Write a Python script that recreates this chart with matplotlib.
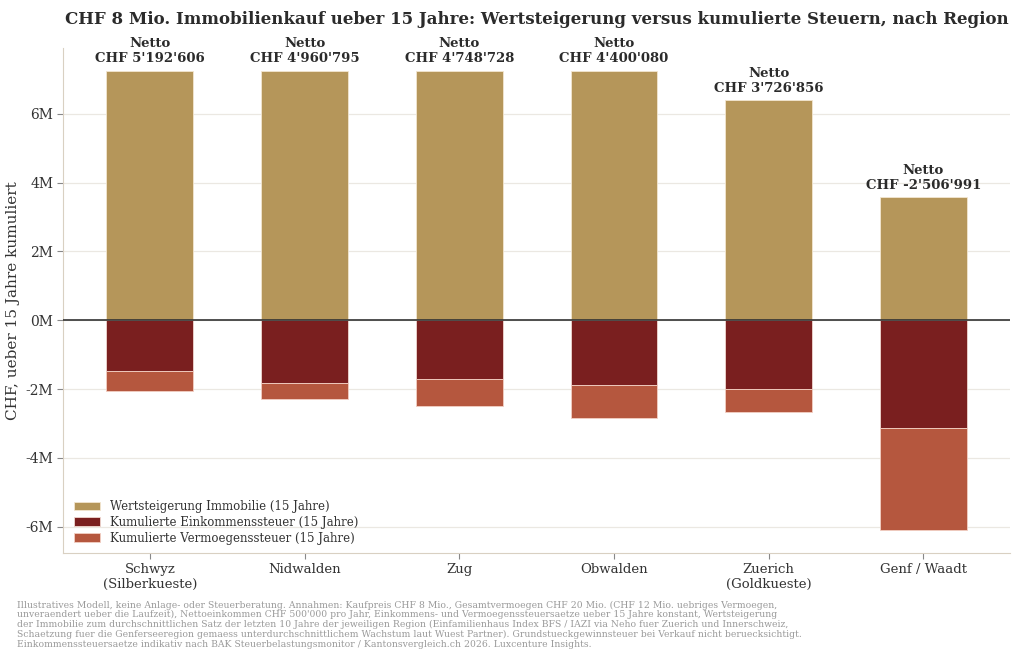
import matplotlib.pyplot as plt
import numpy as np
from matplotlib.ticker import FuncFormatter

plt.rcParams['font.family'] = ['DejaVu Serif']

regions = ['Schwyz\n(Silberkueste)', 'Nidwalden', 'Zug', 'Obwalden',
           'Zuerich\n(Goldkueste)', 'Genf / Waadt']
wertsteigerung = [7_250_000, 7_250_000, 7_250_000, 7_250_000, 6_400_000, 3_580_000]
einkommenssteuer = [1_470_000, 1_820_000, 1_700_000, 1_870_000, 1_990_000, 3_140_000]
vermoegenssteuer = [587_394, 469_205, 801_272, 979_920, 683_144, 2_946_991]

wert = np.array(wertsteigerung)
ek = np.array(einkommenssteuer)
vm = np.array(vermoegenssteuer)
netto = wert - ek - vm

c_gold = '#b5965a'
c_ek = '#7a1f1f'
c_vm = '#b5573e'

fig, ax = plt.subplots(figsize=(10.24, 6.62), dpi=100)
x = np.arange(len(regions))
w = 0.56

ax.bar(x, wert, w, color=c_gold, edgecolor='#f3e6d0', linewidth=0.6,
       label='Wertsteigerung Immobilie (15 Jahre)', zorder=3)
ax.bar(x, -ek, w, color=c_ek, edgecolor='#f0d8d0', linewidth=0.6,
       label='Kumulierte Einkommenssteuer (15 Jahre)', zorder=3)
ax.bar(x, -vm, w, bottom=-ek, color=c_vm, edgecolor='#f3d0c4', linewidth=0.6,
       label='Kumulierte Vermoegenssteuer (15 Jahre)', zorder=3)

for xi, top, n in zip(x, wert, netto):
    s = "CHF {:,.0f}".format(n).replace(',', "'")
    ax.text(xi, top + 150_000, 'Netto\n' + s, ha='center', va='bottom',
            fontsize=9.5, fontweight='bold', color='#2b2b2b', linespacing=1.2,
            clip_on=False)

ax.axhline(0, color='#333333', linewidth=1.2, zorder=4)

ax.set_xticks(x)
ax.set_xticklabels(regions, fontsize=9.5, color='#333333')
ax.set_yticks(np.arange(-6, 7, 2) * 1e6)
ax.yaxis.set_major_formatter(FuncFormatter(lambda v, p: '{:.0f}M'.format(v / 1e6)))
ax.tick_params(axis='y', labelsize=10, colors='#333333')
ax.tick_params(axis='both', color='#888888', length=4)
ax.set_ylabel('CHF, ueber 15 Jahre kumuliert', fontsize=11, color='#333333')

ax.grid(axis='y', color='#ebe8e2', linewidth=0.9, zorder=0)
ax.set_axisbelow(True)
for sp in ['top', 'right']:
    ax.spines[sp].set_visible(False)
for sp in ['left', 'bottom']:
    ax.spines[sp].set_color('#d9d0c2')

ax.set_title('CHF 8 Mio. Immobilienkauf ueber 15 Jahre: Wertsteigerung versus kumulierte Steuern, nach Region',
             fontsize=12, fontweight='bold', color='#2b2b2b', pad=17)

leg = ax.legend(loc='lower left', frameon=False, fontsize=8.5, handlelength=2.2,
                labelspacing=0.25, bbox_to_anchor=(0.0, -0.005))
for t in leg.get_texts():
    t.set_color('#333333')

note = ("Illustratives Modell, keine Anlage- oder Steuerberatung. Annahmen: Kaufpreis CHF 8 Mio., Gesamtvermoegen CHF 20 Mio. (CHF 12 Mio. uebriges Vermoegen,\n"
        "unveraendert ueber die Laufzeit), Nettoeinkommen CHF 500'000 pro Jahr, Einkommens- und Vermoegenssteuersaetze ueber 15 Jahre konstant, Wertsteigerung\n"
        "der Immobilie zum durchschnittlichen Satz der letzten 10 Jahre der jeweiligen Region (Einfamilienhaus Index BFS / IAZI via Neho fuer Zuerich und Innerschweiz,\n"
        "Schaetzung fuer die Genferseeregion gemaess unterdurchschnittlichem Wachstum laut Wuest Partner). Grundstueckgewinnsteuer bei Verkauf nicht beruecksichtigt.\n"
        "Einkommenssteuersaetze indikativ nach BAK Steuerbelastungsmonitor / Kantonsvergleich.ch 2026. Luxcenture Insights.")
fig.text(0.017, 0.093, note, ha='left', va='top', fontsize=6.7, color='#9a9a9a',
         linespacing=1.1)

fig.subplots_adjust(left=0.062, right=0.986, top=0.928, bottom=0.165)
fig.savefig('out.png', dpi=100)
